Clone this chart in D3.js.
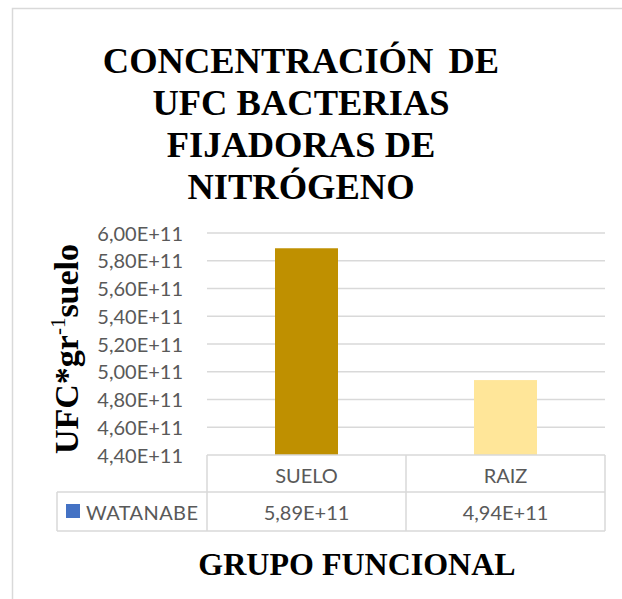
<!DOCTYPE html>
<html><head><meta charset="utf-8">
<script src="https://cdn.jsdelivr.net/npm/d3@7"></script>
<style>body{margin:0;background:#fff}svg{display:block}</style>
</head><body>
<script>
const titleLines = ["CONCENTRACIÓN DE", "UFC BACTERIAS", "FIJADORAS DE", "NITRÓGENO"];
const categories = ["SUELO", "RAIZ"];
const seriesName = "WATANABE";
const values = [5.89e11, 4.94e11];
const valueLabels = ["5,89E+11", "4,94E+11"];
const barColors = ["#BF9000", "#FFE699"];
const tickValues = [4.4e11, 4.6e11, 4.8e11, 5.0e11, 5.2e11, 5.4e11, 5.6e11, 5.8e11, 6.0e11];
const tickLabels = ["4,40E+11","4,60E+11","4,80E+11","5,00E+11","5,20E+11","5,40E+11","5,60E+11","5,80E+11","6,00E+11"];
const xTitle = "GRUPO FUNCIONAL";

(function () {
const W = 622, H = 599;
const svg = d3.select("body").append("svg").attr("width", W).attr("height", H);
svg.append("rect").attr("x", 12.5).attr("y", 8.5).attr("width", 640).attr("height", 640)
  .attr("fill", "#fff").attr("stroke", "#d9d9d9").attr("stroke-width", 1.5);

const pLeft = 207, pRight = 605, pTop = 233, pBottom = 455;
const y = d3.scaleLinear().domain([4.4e11, 6.0e11]).range([pBottom, pTop]);
const x = d3.scaleBand().domain(categories).range([pLeft, pRight]).paddingInner(0).paddingOuter(0);
const barW = 63;
const serif = "'Liberation Serif','Times New Roman',serif";
const sans = "Lato, 'Open Sans', sans-serif";
const fs = 20;
const grid = "#d9d9d9", txt = "#595959";

// title
svg.append("g").selectAll("text").data(titleLines).join("text")
  .attr("x", 301).attr("y", (d, i) => 73 + i * 42)
  .attr("text-anchor", "middle").attr("font-family", serif).attr("font-weight", "bold")
  .attr("font-size", 36.5).attr("fill", "#000").attr("word-spacing", (d, i) => i === 0 ? 6 : 0).text(d => d);

// y axis labels
const yAxis = d3.axisLeft(y).tickValues(tickValues).tickFormat((d, i) => tickLabels[i]).tickSize(0).tickPadding(0);
const ga = svg.append("g").attr("transform", `translate(183,0)`).call(yAxis);
ga.select(".domain").remove();
ga.selectAll("text").attr("font-family", sans).attr("font-size", fs).attr("fill", txt).attr("dy", "0.35em");

// gridlines
svg.append("g").selectAll("line").data(tickValues.slice(1)).join("line")
  .attr("x1", pLeft).attr("x2", pRight).attr("y1", d => y(d)).attr("y2", d => y(d))
  .attr("stroke", grid).attr("stroke-width", 1.3);

// bars
svg.append("g").selectAll("rect").data(values).join("rect")
  .attr("x", (d, i) => x(categories[i]) + x.bandwidth() / 2 - barW / 2)
  .attr("width", barW)
  .attr("y", d => y(d)).attr("height", d => pBottom - y(d))
  .attr("fill", (d, i) => barColors[i]);

// data table
const rowMid = 492, rowBot = 531, legLeft = 57;
const tg = svg.append("g").attr("stroke", grid).attr("stroke-width", 1.5).attr("fill", "none");
tg.append("line").attr("x1", pLeft).attr("x2", pRight).attr("y1", pBottom).attr("y2", pBottom);
tg.append("line").attr("x1", legLeft).attr("x2", pRight).attr("y1", rowMid).attr("y2", rowMid);
tg.append("line").attr("x1", legLeft).attr("x2", pRight).attr("y1", rowBot).attr("y2", rowBot);
tg.append("line").attr("x1", legLeft).attr("x2", legLeft).attr("y1", rowMid).attr("y2", rowBot);
[pLeft, pLeft + x.bandwidth(), pRight].forEach(xx =>
  tg.append("line").attr("x1", xx).attr("x2", xx).attr("y1", pBottom).attr("y2", rowBot));

svg.append("g").selectAll("text").data(categories).join("text")
  .attr("x", d => x(d) + x.bandwidth() / 2).attr("y", 483)
  .attr("text-anchor", "middle").attr("font-family", sans).attr("font-size", fs).attr("fill", txt).text(d => d);
svg.append("g").selectAll("text").data(valueLabels).join("text")
  .attr("x", (d, i) => x(categories[i]) + x.bandwidth() / 2).attr("y", 520)
  .attr("text-anchor", "middle").attr("font-family", sans).attr("font-size", fs).attr("fill", txt).text(d => d);

svg.append("rect").attr("x", 66).attr("y", 504).attr("width", 14).attr("height", 14).attr("fill", "#4472C4");
svg.append("text").attr("x", 86).attr("y", 520).attr("font-family", sans).attr("font-size", fs)
  .attr("fill", txt).attr("textLength", 112).text(seriesName);

// axis titles
const yt = svg.append("text").attr("transform", "translate(78,349) rotate(-90)")
  .attr("text-anchor", "middle").attr("font-family", serif).attr("font-weight", "bold")
  .attr("font-size", 34).attr("fill", "#000");
yt.append("tspan").text("UFC*gr");
yt.append("tspan").attr("font-size", 21).attr("font-weight", "normal").attr("dy", -13).text("-1");
yt.append("tspan").attr("dy", 13).text("suelo");

svg.append("text").attr("x", 357).attr("y", 575).attr("text-anchor", "middle")
  .attr("font-family", serif).attr("font-weight", "bold").attr("font-size", 32).attr("fill", "#000").text(xTitle);
})();
</script>
</body></html>
